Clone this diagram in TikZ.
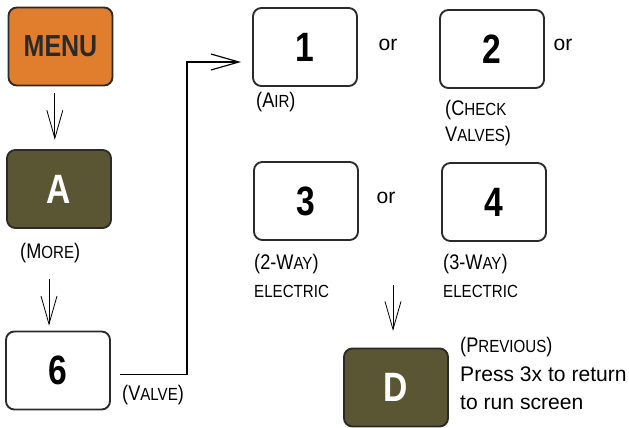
\documentclass[tikz,border=0pt]{standalone}
\usepackage{fontspec}
\setmainfont{Liberation Sans}
\newfontfamily\keyfont{Liberation Sans}[FakeStretch=0.82]
\newfontfamily\narrowfont{Liberation Sans}[FakeStretch=0.86]
\usetikzlibrary{arrows.meta,positioning}
\definecolor{menuColor}{HTML}{E07E2E}
\definecolor{softColor}{HTML}{5A5634}
\definecolor{rimColor}{HTML}{2B2A28}
\newcommand{\sml}[1]{{\fontsize{15}{24}\selectfont #1}}
\tikzset{
	key/.style={draw=rimColor, line width=1.6pt, rounded corners=2.5mm,
		minimum width=3.12cm, minimum height=2.34cm, inner sep=0,
		font=\keyfont\bfseries\fontsize{35}{35}\selectfont},
	softkey/.style={key, fill=softColor, text=white},
	note/.style={font=\fontsize{18}{24}\selectfont, inner sep=0, anchor=west, align=left},
	tag/.style={note, font=\narrowfont\fontsize{18}{24}\selectfont},
	flow/.style={-{Straight Barb[length=8.4mm, width=4.8mm]}, line width=0.7pt}
}
\begin{document}
\begin{tikzpicture}[x=0.03cm, y=-0.03cm]
	\useasboundingbox (0,0) rectangle (629,427);
	% keys
	\node[key, fill=menuColor, text=rimColor, font=\keyfont\bfseries\fontsize{26}{26}\selectfont] (menu) at (60.5,46.5) {MENU};
	\node[softkey] (a) at (59,189) {A};
	\node[key] (six) at (58,370.5) {6};
	\node[key] (one) at (305,47) {1};
	\node[key] (two) at (492,49) {2};
	\node[key] (three) at (306,201) {3};
	\node[key] (four) at (494,202) {4};
	\node[softkey] (d) at (396,387.5) {D};
	
	% labels
	\node[tag] (more) at (20,253) {(M\sml{ORE})};
	\node[tag] (valve) at (122,395) {(V\sml{ALVE})};
	\node[tag] (air) at (256,102) {(A\sml{IR})};
	\node[tag] (check) at (445,123) {(C\sml{HECK}\\[-2pt]V\sml{ALVES})};
	\node[tag] (twoway) at (254,276) {(2-W\sml{AY})\\\sml{ELECTRIC}};
	\node[tag] (threeway) at (443,276) {(3-W\sml{AY})\\\sml{ELECTRIC}};
	\node[note] (prev) at (460,373.5) {{\narrowfont(P\sml{REVIOUS})}\\Press 3x to return\\to run screen};
	\node[note, anchor=center] (or1) at (388,45) {or};
	\node[note, anchor=center] (or2) at (563,45) {or};
	\node[note, anchor=center] (or3) at (386,198) {or};
	
	% connectors
	\draw[flow, shorten <=0.2cm, shorten >=0.28cm] ([xshift=-0.17cm]menu.south) -- ([xshift=-0.17cm]menu.south |- a.north);
	\draw[flow, shorten <=1.5cm, shorten >=0.15cm] ([xshift=-0.3cm]a.south) -- ([xshift=-0.3cm]a.south |- six.north);
	\coordinate (back) at (393,285);
	\draw[flow, shorten >=0.5cm] (back) -- (back |- d.north);
	\coordinate (bend) at (187,62);
	\draw[flow, line width=1pt, shorten <=0.28cm, shorten >=0.33cm] ([yshift=-3.5]six.east) -| (bend) -- (bend -| one.west);
\end{tikzpicture}
\end{document}
